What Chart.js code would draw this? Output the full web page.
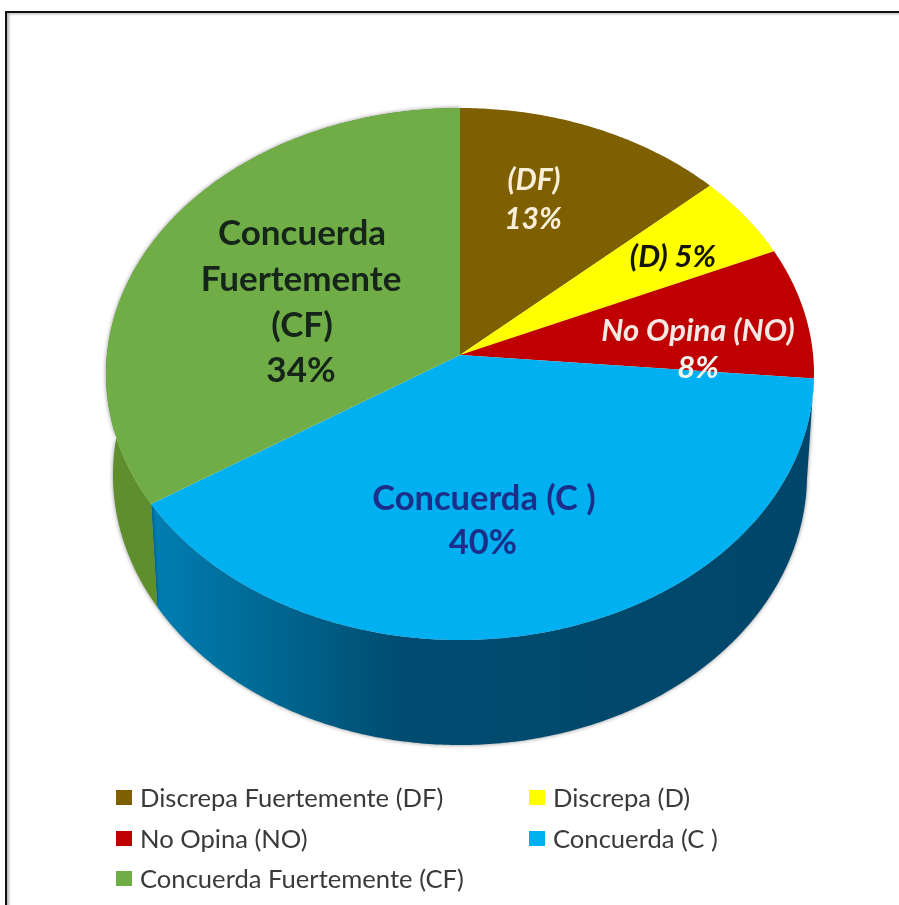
<!DOCTYPE html>
<html lang="es">
<head>
<meta charset="UTF-8">
<title>Grafico circular</title>
<script src="https://cdn.jsdelivr.net/npm/chart.js"></script>
<style>
  html, body { margin: 0; background: #fff; overflow: hidden; }
  #wrap { position: relative; width: 899px; height: 905px; overflow: hidden; }
  #frame { position: absolute; left: 5px; top: 11px; width: 900px; height: 920px; border: 2px solid #111; border-right: 0; box-shadow: inset 2px 1px 3px rgba(0,0,0,0.3); }
  canvas { position: absolute; left: 0; top: 0; }
  #legend { position: absolute; left: 0; top: 0; font: 25.6px Lato, sans-serif; color: #3a3a3a; }
  .item { position: absolute; white-space: nowrap; line-height: 30px; }
  .item i { position: absolute; left: -24px; top: 8px; width: 16px; height: 15px; }
</style>
</head>
<body>
<div id="wrap">
  <div id="frame"></div>
  <canvas id="pie" width="899" height="905"></canvas>
  <div id="legend"></div>
</div>
<script>
const categories = ['Discrepa Fuertemente (DF)', 'Discrepa (D)', 'No Opina (NO)', 'Concuerda (C )', 'Concuerda Fuertemente (CF)'];
const percents = [13.3, 5.1, 8.0, 39.5, 34.1];
const sliceColors = ['#7f6000', '#ffff00', '#c00000', '#00b0f0', '#70ad47'];

// rim of the top face and of the bottom of the wall
const topRim = { cx: 460, cy: 374, rx: 354, ry: 266 };
const lowRim = { cx: 460, cy: 475, rx: 347, ry: 270 };
const tilt = 0.0714; // perspective: the pie centre sits above the ellipse centre

function rimPoint(angle, rim) {
  const u = Math.cos(angle), v = -Math.sin(angle);
  const k = 1 + tilt * v;
  return {
    x: rim.cx + rim.rx * u * Math.sqrt(1 - tilt * tilt) / k,
    y: rim.cy - rim.ry * (v + tilt) / k
  };
}

function tracePoints(ctx, start, end, rim) {
  const steps = Math.ceil(Math.abs(end - start) / 0.01);
  for (let i = 0; i <= steps; i++) {
    const p = rimPoint(start + (end - start) * i / steps, rim);
    ctx.lineTo(p.x, p.y);
  }
}

function wallFill(ctx, index) {
  const g = ctx.createLinearGradient(150, 0, 810, 0);
  if (index === 3) {
    g.addColorStop(0, '#007fb3');
    g.addColorStop(0.2, '#00658f');
    g.addColorStop(0.38, '#004c70');
    g.addColorStop(1, '#00466a');
  } else {
    g.addColorStop(0, '#5f8f2d');
    g.addColorStop(1, '#5f8f2d');
  }
  return g;
}

const labelLines = [
  { text: '(DF)', x: 534, y: 180, font: 'italic bold 30px Lato', color: '#f8eeda' },
  { text: '13%', x: 533, y: 219, font: 'italic bold 30px Lato', color: '#f8eeda' },
  { text: '(D) 5%', x: 673, y: 257, font: 'italic bold 31px Lato', color: '#15130a' },
  { text: 'No Opina (NO)', x: 698, y: 331, font: 'italic bold 31px Lato', color: '#f8e8e4' },
  { text: '8%', x: 698, y: 368, font: 'italic bold 31px Lato', color: '#f0f6f0' },
  { text: 'Concuerda (C )', x: 484, y: 499, font: 'bold 34.5px Lato', color: '#1b2f8a' },
  { text: '40%', x: 483, y: 543, font: 'bold 34.5px Lato', color: '#1b2f8a' },
  { text: 'Concuerda', x: 302, y: 234, font: 'bold 35px Lato', color: '#16251a' },
  { text: 'Fuertemente', x: 301, y: 280, font: 'bold 35px Lato', color: '#16251a' },
  { text: '(CF)', x: 302, y: 326, font: 'bold 35px Lato', color: '#16251a' },
  { text: '34%', x: 301, y: 371, font: 'bold 35px Lato', color: '#16251a' }
];

// draws the arcs Chart.js laid out as a tilted disc with a wall under it
const tiltedPie = {
  id: 'tiltedPie',
  beforeDatasetDraw(chart) {
    const ctx = chart.ctx;
    const arcs = chart.getDatasetMeta(0).data;

    [3, 4].forEach(function (i) {
      const arc = arcs[i];
      ctx.save();
      ctx.shadowColor = 'rgba(0,0,0,0.45)';
      ctx.shadowBlur = 4;
      ctx.fillStyle = wallFill(ctx, i);
      ctx.beginPath();
      tracePoints(ctx, arc.startAngle, arc.endAngle, topRim);
      tracePoints(ctx, arc.endAngle, arc.startAngle, lowRim);
      ctx.closePath();
      ctx.fill();
      ctx.restore();
    });

    arcs.forEach(function (arc) {
      ctx.fillStyle = arc.options.backgroundColor;
      ctx.beginPath();
      ctx.moveTo(topRim.cx, topRim.cy - topRim.ry * tilt);
      tracePoints(ctx, arc.startAngle, arc.endAngle, topRim);
      ctx.closePath();
      ctx.fill();
    });
    return false;
  },
  afterDatasetsDraw(chart) {
    const ctx = chart.ctx;
    ctx.save();
    ctx.textAlign = 'center';
    ctx.textBaseline = 'middle';
    labelLines.forEach(function (l) {
      ctx.font = l.font;
      ctx.fillStyle = l.color;
      ctx.fillText(l.text, l.x, l.y);
    });
    ctx.restore();
  }
};

const chart = new Chart(document.getElementById('pie').getContext('2d'), {
  type: 'pie',
  data: {
    labels: categories,
    datasets: [{ data: percents, backgroundColor: sliceColors, borderWidth: 0 }]
  },
  options: {
    responsive: false,
    animation: false,
    plugins: { legend: { display: false }, tooltip: { enabled: false } }
  },
  plugins: [tiltedPie]
});

// legend in two columns, built from the chart's own legend items
const legendSpots = [[140, 782], [553, 782], [140, 823], [553, 823], [140, 863]];
Chart.overrides.pie.plugins.legend.labels.generateLabels(chart).forEach(function (item, i) {
  const row = document.createElement('div');
  row.className = 'item';
  row.style.left = legendSpots[i][0] + 'px';
  row.style.top = legendSpots[i][1] + 'px';
  row.innerHTML = '<i style="background:' + item.fillStyle + '"></i>' + item.text;
  document.getElementById('legend').appendChild(row);
});
</script>
</body>
</html>
